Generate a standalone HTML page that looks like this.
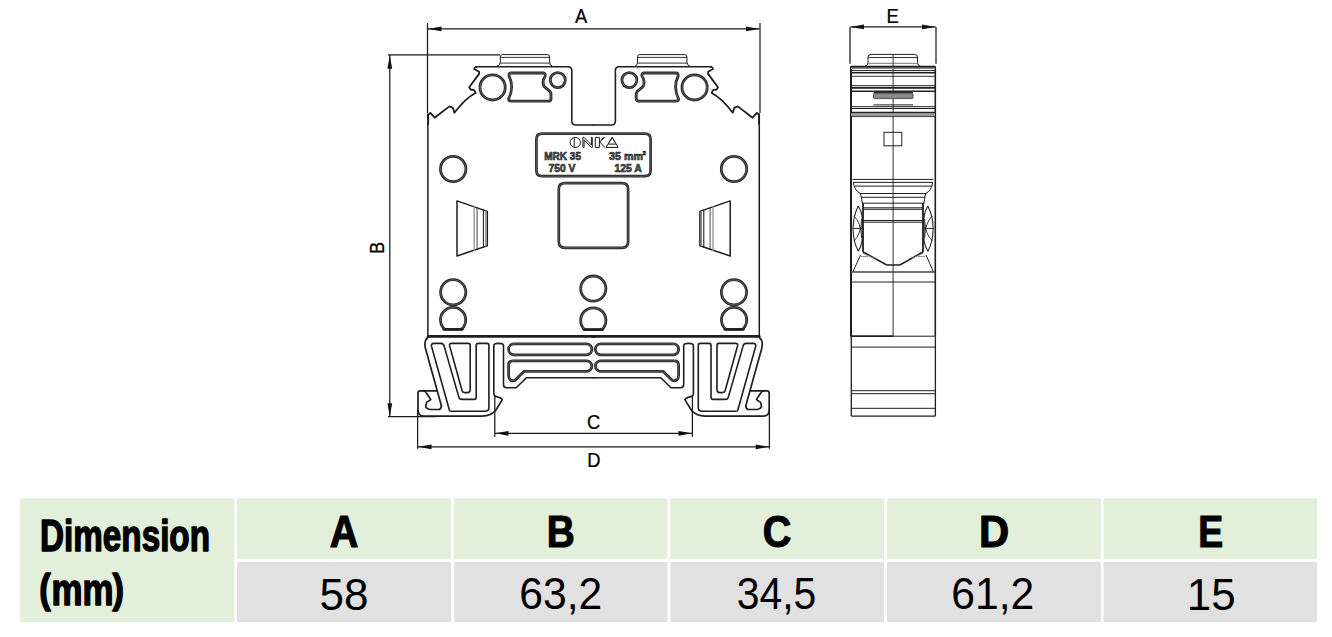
<!DOCTYPE html>
<html><head><meta charset="utf-8">
<style>
html,body{margin:0;padding:0;background:#fff;width:1332px;height:637px;overflow:hidden}
svg{display:block;position:absolute;left:0;top:0}
text{font-family:"Liberation Sans",sans-serif}
</style></head><body>
<svg width="1332" height="637" viewBox="0 0 1332 637">
<g id="table">
<rect x="20" y="498.3" width="214.5" height="123.8" fill="#E2EFDA"/>
<rect x="237" y="498.3" width="214" height="60.5" fill="#E2EFDA"/>
<rect x="454" y="498.3" width="213.6" height="60.5" fill="#E2EFDA"/>
<rect x="670.2" y="498.3" width="213.9" height="60.5" fill="#E2EFDA"/>
<rect x="887" y="498.3" width="214.1" height="60.5" fill="#E2EFDA"/>
<rect x="1103.6" y="498.3" width="213.6" height="60.5" fill="#E2EFDA"/>
<rect x="237" y="562" width="214" height="60.1" fill="#E1E1E1"/>
<rect x="454" y="562" width="213.6" height="60.1" fill="#E1E1E1"/>
<rect x="670.2" y="562" width="213.9" height="60.1" fill="#E1E1E1"/>
<rect x="887" y="562" width="214.1" height="60.1" fill="#E1E1E1"/>
<rect x="1103.6" y="562" width="213.6" height="60.1" fill="#E1E1E1"/>
<g font-weight="bold" font-size="44" fill="#000" stroke="#000" stroke-width="1.5" stroke-linejoin="round">
<text x="40" y="550.5" textLength="170" lengthAdjust="spacingAndGlyphs">Dimension</text>
<text transform="translate(39.3 603) scale(0.85 1)" font-size="40.4">(</text>
<text x="51.5" y="605.3" textLength="62" lengthAdjust="spacingAndGlyphs">mm</text>
<text transform="translate(112.6 603) scale(0.85 1)" font-size="40.4">)</text>
</g>
<g font-weight="bold" font-size="44" fill="#000" stroke="#000" stroke-width="1.1" stroke-linejoin="round" text-anchor="middle">
<text x="344" y="547.3" transform="translate(344 0) scale(0.9 1) translate(-344 0)">A</text>
<text x="560.8" y="547.3" transform="translate(560.8 0) scale(0.88 1) translate(-560.8 0)">B</text>
<text x="777.1" y="547.3" transform="translate(777.1 0) scale(0.9 1) translate(-777.1 0)">C</text>
<text x="994" y="547.3" transform="translate(994 0) scale(0.95 1) translate(-994 0)">D</text>
<text x="1210.8" y="547.3" transform="translate(1210.8 0) scale(0.85 1) translate(-1210.8 0)">E</text>
</g>
<g font-size="44" fill="#000" text-anchor="middle">
<text x="344" y="609.5">58</text>
<text x="560.8" y="609.5" transform="translate(560.8 0) scale(0.97 1) translate(-560.8 0)">63,2</text>
<text x="776.5" y="609.5" transform="translate(776.5 0) scale(0.93 1) translate(-776.5 0)">34,5</text>
<text x="992.7" y="609.5" transform="translate(992.7 0) scale(0.97 1) translate(-992.7 0)">61,2</text>
<text x="1211.2" y="609.5">15</text>
</g>
</g>
<g id="dims" stroke="#1a1a1a" stroke-width="1.25" fill="none">
<line x1="427.5" y1="23" x2="427.5" y2="113"/>
<line x1="760" y1="23" x2="760" y2="113"/>
<line x1="428" y1="28.9" x2="759.5" y2="28.9"/>
<line x1="388" y1="54.8" x2="500" y2="54.8"/>
<line x1="388" y1="416.7" x2="436" y2="416.7"/>
<line x1="389.8" y1="55" x2="389.8" y2="416.5"/>
<line x1="494.8" y1="396" x2="494.8" y2="436.8"/>
<line x1="692.4" y1="396" x2="692.4" y2="436.8"/>
<line x1="495" y1="433.3" x2="692" y2="433.3"/>
<line x1="417.6" y1="410" x2="417.6" y2="448.8"/>
<line x1="769.4" y1="408" x2="769.4" y2="448.8"/>
<line x1="418" y1="446.8" x2="769" y2="446.8"/>
<line x1="850" y1="26.9" x2="850" y2="63.7"/>
<line x1="936" y1="26.9" x2="936" y2="63.7"/>
<line x1="850.5" y1="26.9" x2="935.5" y2="26.9"/>
</g>
<g id="arrows" fill="#111">
<path d="M428 28.9 L441.5 26.5 L441.5 31.3 Z"/>
<path d="M759.5 28.9 L746 26.5 L746 31.3 Z"/>
<path d="M389.8 55.5 L387.4 68.7 L392.2 68.7 Z"/>
<path d="M389.8 416.5 L387.4 403.3 L392.2 403.3 Z"/>
<path d="M495 433.3 L508.5 430.9 L508.5 435.7 Z"/>
<path d="M692 433.3 L678.5 430.9 L678.5 435.7 Z"/>
<path d="M418 446.8 L431.5 444.4 L431.5 449.2 Z"/>
<path d="M769.2 446.8 L755.7 444.4 L755.7 449.2 Z"/>
<path d="M850.5 26.9 L864 24.5 L864 29.3 Z"/>
<path d="M935.5 26.9 L922 24.5 L922 29.3 Z"/>
</g>
<g font-size="19.5" fill="#000" stroke="#000" stroke-width="0.25" text-anchor="middle">
<text transform="translate(581.2 22.9) scale(0.94 1)">A</text>
<text transform="translate(593.6 429.2) scale(0.94 1)">C</text>
<text transform="translate(593.8 466.8) scale(0.94 1)">D</text>
<text transform="translate(892.6 23.3) scale(0.94 1)">E</text>
<text transform="translate(383.8 248) rotate(-90) scale(0.94 1)">B</text>
</g>
<g id="front" stroke="#1e1e1e" stroke-width="1" fill="none" stroke-linejoin="round" stroke-linecap="round">
<g id="halfL">
<path d="M497.3,66.2 Q500.3,65.5 500.3,62 V57 Q500.3,54.6 502.5,54.6 H547.5 Q549.6,54.6 549.6,57 V62 Q549.6,65.5 552,66.2"/>
<path d="M500.5,57.4 H549.4 M500.5,63.1 H549.4" stroke-width="0.9"/>
<path d="M476.2,66.8 H568 Q571.8,66.8 571.8,70.5 V121 Q571.8,125 575.8,125 H593.6" stroke-width="1.6"/>
<path d="M476.2,66.9 Q474,67.8 474.2,69 L479.1,71.8 L479.1,73.9 L469.2,87.3 L470.6,89.5 L474.2,90.2 L475.6,93 Q465.4,98.1 454.4,112.8 L452.9,107.8 L449.4,106.4 L434.6,117.7 L430.3,112.8 L428.2,114.9 V124" stroke-width="1.8"/>
<path d="M480.00,87.4 A12.6,12.6 0 1 1 505.20,87.4 A12.6,12.6 0 1 1 480.00,87.4 Z" stroke="#262626" stroke-width="2.8"/><path d="M480.00,87.4 A12.6,12.6 0 1 1 505.20,87.4 A12.6,12.6 0 1 1 480.00,87.4 Z" stroke="#6a6a6a" stroke-width="0.75"/>
<path d="M511,73 H543.8 Q546,73.6 545,76.5 Q541.8,81 544,86.4 L549.9,91.4 Q551,92.8 551,95 V98.8 Q550.8,101.2 548.2,101.2 H511.5 Q508.6,101.2 508.6,99 Q514.5,87 509,76 Q509,73 511,73 Z" stroke="#262626" stroke-width="2.8"/><path d="M511,73 H543.8 Q546,73.6 545,76.5 Q541.8,81 544,86.4 L549.9,91.4 Q551,92.8 551,95 V98.8 Q550.8,101.2 548.2,101.2 H511.5 Q508.6,101.2 508.6,99 Q514.5,87 509,76 Q509,73 511,73 Z" stroke="#6a6a6a" stroke-width="0.75"/>
<path d="M550.30,80.1 A7.5,7.5 0 1 1 565.30,80.1 A7.5,7.5 0 1 1 550.30,80.1 Z" stroke="#262626" stroke-width="2.8"/><path d="M550.30,80.1 A7.5,7.5 0 1 1 565.30,80.1 A7.5,7.5 0 1 1 550.30,80.1 Z" stroke="#6a6a6a" stroke-width="0.75"/>
<path d="M440.50,169 A12.7,12.7 0 1 1 465.90,169 A12.7,12.7 0 1 1 440.50,169 Z" stroke="#262626" stroke-width="2.8"/><path d="M440.50,169 A12.7,12.7 0 1 1 465.90,169 A12.7,12.7 0 1 1 440.50,169 Z" stroke="#6a6a6a" stroke-width="0.75"/>
<path d="M457,200.9 L487.3,211.4 V245.8 L457,256 Z" stroke-width="1.5"/>
<path d="M474.2,206.8 V250.3" stroke-width="1.4" stroke="#999"/><path d="M477.1,207.8 V249.2" stroke-width="0.9" stroke="#333"/><path d="M483.4,210 V247" stroke-width="1.1"/><path d="M485.8,210.8 V246.2" stroke-width="1.2" stroke="#888"/>
<path d="M440.60,292.3 A12.6,12.6 0 1 1 465.80,292.3 A12.6,12.6 0 1 1 440.60,292.3 Z" stroke="#262626" stroke-width="2.8"/><path d="M440.60,292.3 A12.6,12.6 0 1 1 465.80,292.3 A12.6,12.6 0 1 1 440.60,292.3 Z" stroke="#6a6a6a" stroke-width="0.75"/>
<path d="M444.82,329.4 A12.6,12.6 0 1 1 461.38,329.4 Z" stroke="#262626" stroke-width="2.8"/><path d="M444.82,329.4 A12.6,12.6 0 1 1 461.38,329.4 Z" stroke="#6a6a6a" stroke-width="0.75"/>
<path d="M443.5,329.4 H462.7" stroke-width="2.2"/>
<path d="M427.9,114 V336.5" stroke-width="1.5"/>
<path d="M428,336.4 H593.6" stroke-width="2.6"/>
<path d="M427.9,337.5 Q425,339.5 424.9,344 L425.2,347.5 L441.4,405.8" stroke-width="1.7"/>
<path d="M441.4,405.8 Q441,409.5 438.5,409.5 H430 Q425.7,408.5 425.7,406 L426.6,402.4 L430.8,399.6 L427,393.8 Q425.5,391 423.5,391" stroke-width="1.7"/>
<path d="M436.8,390.8 H420.3 Q418,390.8 418,393 V410 Q418,416.2 424,416.2 H482 Q491.5,415.6 495.6,410.5 L502.3,399.6 Q501,397.6 495.4,396.4" stroke-width="1.7"/>
<path d="M431.6,346.6 Q430.6,343.4 434,343.4 H441 Q443.6,343.4 444.2,346.4 L459,397.6 Q459.7,399.4 462,399.4 H474.2 Q476.2,399.4 476.2,397 V345.4 Q476.2,343.4 478.4,343.4 H486.8 Q488.9,343.4 488.9,345.4 V407.5 Q488.9,411.3 485,411.3 H451.5 Q449.6,411.3 449.3,409.8 Z" stroke-width="1.6"/>
<path d="M449.5,345.4 Q449.3,343.4 451.5,343.4 H468.3 Q470.2,343.4 470.2,345.4 V389.8 Q470.2,392.6 467.4,392.6 H465 Q462.6,392.6 462.1,390.8 Z" stroke-width="1.6"/>
<path d="M495.4,396.4 Q493.8,395.6 493.8,393.6 V345.6 Q493.8,343.4 498.7,343.4 Q503.5,343.4 503.5,345.6 V384.8 Q503.5,387.7 506.6,387.7 H516.2 L526.4,377.8 H593.6" stroke-width="1.6"/>
<path d="M514,343.9 H586.4 A5.45,5.45 0 0 1 586.4,354.8 H514 A5.45,5.45 0 0 1 514,343.9 Z" stroke="#262626" stroke-width="2.8"/><path d="M514,343.9 H586.4 A5.45,5.45 0 0 1 586.4,354.8 H514 A5.45,5.45 0 0 1 514,343.9 Z" stroke="#6a6a6a" stroke-width="0.75"/>
<path d="M513,360.9 H586.6 A5.2,5.2 0 0 1 586.6,371.3 H524.2 L515.6,379.8 Q513,381.6 510.6,380 Q508.6,378.3 508.6,375.4 V365.2 Q508.6,360.9 513,360.9 Z" stroke="#262626" stroke-width="2.8"/><path d="M513,360.9 H586.6 A5.2,5.2 0 0 1 586.6,371.3 H524.2 L515.6,379.8 Q513,381.6 510.6,380 Q508.6,378.3 508.6,375.4 V365.2 Q508.6,360.9 513,360.9 Z" stroke="#6a6a6a" stroke-width="0.75"/>
</g>
<use href="#halfL" transform="translate(1187.2 0) scale(-1 1)"/>
<path d="M593,336.4 H594.5" stroke-width="2.6"/>
<path d="M542.1,133.6 H644.9 Q650.6,133.6 650.6,139.3 V170.5 Q650.6,176.2 644.9,176.2 H542.1 Q536.4,176.2 536.4,170.5 V139.3 Q536.4,133.6 542.1,133.6 Z" stroke="#262626" stroke-width="2.7"/><path d="M542.1,133.6 H644.9 Q650.6,133.6 650.6,139.3 V170.5 Q650.6,176.2 644.9,176.2 H542.1 Q536.4,176.2 536.4,170.5 V139.3 Q536.4,133.6 542.1,133.6 Z" stroke="#6a6a6a" stroke-width="0.75"/>
<path d="M564.8,183.2 H622.1 Q628.1,183.2 628.1,189.2 V241.8 Q628.1,247.8 622.1,247.8 H564.8 Q558.8,247.8 558.8,241.8 V189.2 Q558.8,183.2 564.8,183.2 Z" stroke="#262626" stroke-width="2.7"/><path d="M564.8,183.2 H622.1 Q628.1,183.2 628.1,189.2 V241.8 Q628.1,247.8 622.1,247.8 H564.8 Q558.8,247.8 558.8,241.8 V189.2 Q558.8,183.2 564.8,183.2 Z" stroke="#6a6a6a" stroke-width="0.75"/>
<path d="M580.70,288.6 A12.6,12.6 0 1 1 605.90,288.6 A12.6,12.6 0 1 1 580.70,288.6 Z" stroke="#262626" stroke-width="2.8"/><path d="M580.70,288.6 A12.6,12.6 0 1 1 605.90,288.6 A12.6,12.6 0 1 1 580.70,288.6 Z" stroke="#6a6a6a" stroke-width="0.75"/>
<path d="M584.69,329.6 A12.6,12.6 0 1 1 601.91,329.6 Z" stroke="#262626" stroke-width="2.8"/><path d="M584.69,329.6 A12.6,12.6 0 1 1 601.91,329.6 Z" stroke="#6a6a6a" stroke-width="0.75"/>
<path d="M583.6,329.6 H603" stroke-width="2.2"/>
</g>
<g id="side" stroke="#1e1e1e" stroke-width="1" fill="none" stroke-linecap="butt">
<path d="M865,66.3 Q868,65.6 868,62.5 V57 Q868,54.4 871,54.4 H914.5 Q917.5,54.4 917.5,57 V62.5 Q917.5,65.6 920.5,66.3"/>
<path d="M868.3,57.5 H917.2" stroke-width="0.9"/><path d="M868.3,63.3 H917.2" stroke-width="0.9" stroke="#666"/>
<line x1="893.1" y1="54.4" x2="893.1" y2="336.5" stroke-width="1.1" stroke="#444"/>
<path d="M851,66.6 V336.5" stroke-width="2"/>
<path d="M935.3,66.6 V336.5" stroke-width="1.6"/>
<rect x="851" y="66.6" width="84" height="2.4" fill="#8a8a8a" stroke="none"/>
<path d="M850.5,66.6 H935.5" stroke-width="1.6"/>
<path d="M851,70.6 H935" stroke-width="1"/>
<path d="M851,72.8 H935" stroke-width="1.5"/>
<path d="M851,76.3 H935" stroke-width="0.9"/>
<path d="M851,85.7 H935" stroke-width="1"/>
<path d="M851,87.9 H935" stroke-width="1.6"/>
<path d="M850.5,91.2 H935.5" stroke-width="1.6"/>
<path d="M873.5,92.4 H913" stroke-width="1"/>
<rect x="873.5" y="93.4" width="39.5" height="5.2" rx="1" fill="#8a8a8a" stroke="#333" stroke-width="0.8"/>
<path d="M873.5,104.9 H913" stroke-width="1"/>
<path d="M851,106.7 H935 M851,108.5 H935" stroke-width="1"/>
<path d="M850.5,112.6 H935.5" stroke-width="1.6"/>
<rect x="851" y="113.4" width="84" height="3.2" fill="#9a9a9a" stroke="none"/>
<path d="M851,116.6 H935" stroke-width="0.8"/>
<rect x="884" y="132.3" width="17.8" height="13.5" stroke-width="1"/>
<path d="M852.7,179.4 H933.3 M853,182.4 H933 M855,186.1 H931" stroke-width="1"/>
<path d="M853.5,182.5 Q854,190 860.3,193.5 M932.5,182.5 Q932,190 925.7,193.5" stroke-width="1"/>
<path d="M860,193.5 H926.6 M861.5,197.3 H925 M862.3,203.2 H924.5" stroke-width="1"/>
<path d="M860.6,193.8 L862.4,203.2 M925.6,193.8 L923.8,203.2" stroke-width="1"/>
<path d="M863,203 V251.8 M923,203 V251.8" stroke-width="1.8"/>
<path d="M863,207.8 H923 M863,209.3 H923 M863,220.5 H923 M863,222.2 H923" stroke-width="1"/>
<path d="M862.8,251.8 L886.7,265 H900 L923.2,251.8" stroke-width="1.6"/>
<path d="M863,253.5 L874,258 M923,253.5 L912,258 M861,256.5 H868 M925,256.5 H918" stroke-width="0.8" stroke="#777"/>
<path d="M860.5,255 L852.8,272 M926,255 L933.5,272" stroke-width="1"/>
<path d="M851,272 H935" stroke-width="1.3" stroke="#444"/>
<path d="M851,282 H935" stroke-width="1"/>
<g id="leafL" stroke-width="1.05" stroke="#222">
<path d="M858.3,206 C851.5,219 851.2,238 858.3,251.3 M858.3,206 C863.5,214 862.2,221 861.9,228.5 C862.2,236 863.5,243 858.3,251.3"/>
<path d="M853.8,216 Q861,222 861.6,238 M853.8,241 Q861,235 861.6,219" stroke-width="0.9"/>
<path d="M852.6,228.5 H862" stroke-width="0.9"/>
</g>
<use href="#leafL" transform="translate(1786.2 0) scale(-1 1)"/>
<path d="M850.6,336.2 H893" stroke-width="1.8"/>
<path d="M893,336.2 H935.4" stroke-width="1"/>
<path d="M851.3,336.5 V416 M935.4,336.5 V416" stroke-width="1.3"/>
<path d="M851.3,347.1 H935.4 M851.3,390.7 H935.4 M851.3,393.7 H935.4 M851.3,408.3 H935.4" stroke-width="1"/>
<path d="M851.3,416.1 H935.4" stroke-width="1.3"/>
</g>
<g id="plate">
<g fill="none" stroke="#1a1a1a" stroke-width="1" stroke-linejoin="miter">
<ellipse cx="575.25" cy="142.45" rx="5.2" ry="5"/>
<path d="M574.2,137.6 V147.3"/>
<path d="M582.9,147.4 V137.4 H584.2 L591.4,145 V137.4 H592.3 V147.4 H591.2 L584.1,139.8 V147.4 Z"/>
<path d="M595.3,137.4 H599.4 V147.4 H595.3 Z M599.4,142.2 L604.6,137.4 M599.6,141.6 L604.8,147.4 M601.3,140.3 L603.6,137.4"/>
<path d="M606,147.4 L612.2,137.2 L618.1,147.4 Z M609,142.6 L612.2,137.4 L615.2,142.6 M608.2,144.1 H615.9"/>
</g>
<g font-size="11" font-weight="bold" fill="#606060" stroke="#111" stroke-width="0.6">
<text x="544.2" y="160.1" textLength="36.8" lengthAdjust="spacingAndGlyphs">MRK 35</text>
<text x="609" y="160.1" textLength="34" lengthAdjust="spacingAndGlyphs">35 mm</text>
<text x="642.5" y="155.3" font-size="6">2</text>
<text x="548.5" y="171.8" textLength="27" lengthAdjust="spacingAndGlyphs">750 V</text>
<text x="614.4" y="171.8" textLength="27.4" lengthAdjust="spacingAndGlyphs">125 A</text>
</g>
</g>

</svg>
</body></html>
